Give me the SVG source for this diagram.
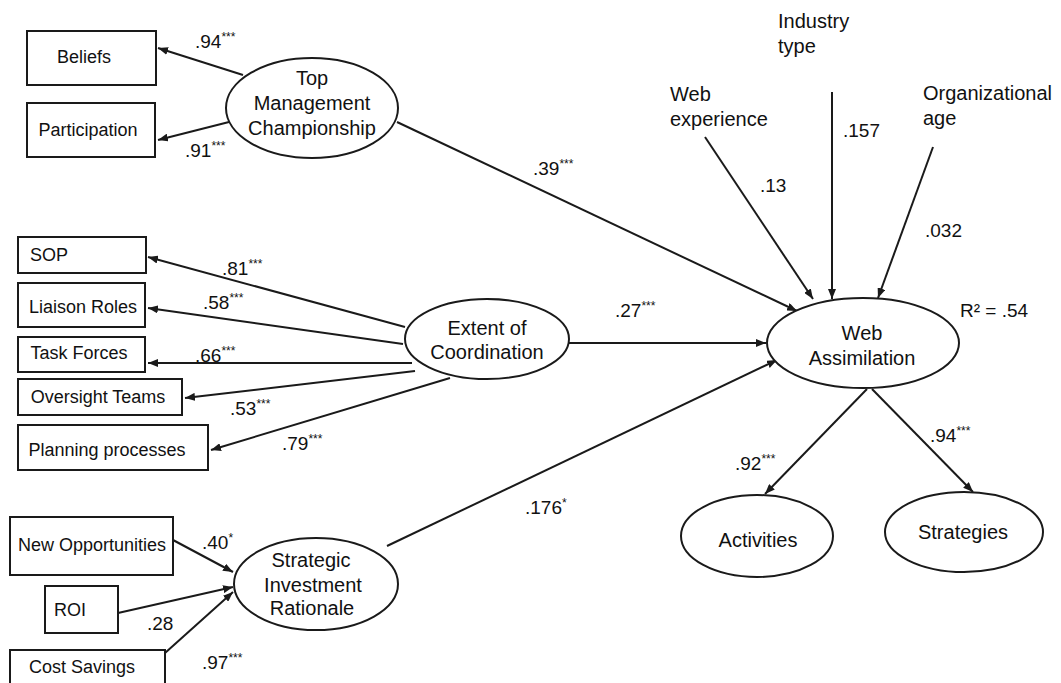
<svg xmlns="http://www.w3.org/2000/svg" width="1061" height="683" viewBox="0 0 1061 683">
<style>
.box{fill:#fff;stroke:#1a1a1a;stroke-width:2}
.ell{fill:#fff;stroke:#1a1a1a;stroke-width:2}
.bt{font-family:"Liberation Sans",Arial,sans-serif;font-size:18px;fill:#111;text-anchor:middle;dominant-baseline:central}
.et{font-family:"Liberation Sans",Arial,sans-serif;font-size:20px;fill:#111;text-anchor:middle;dominant-baseline:central}
.ot{font-family:"Liberation Sans",Arial,sans-serif;font-size:20px;fill:#111}
.lb{font-family:"Liberation Sans",Arial,sans-serif;font-size:19px;fill:#111}
.st{font-size:12px}
.cn{fill:none;stroke:#1a1a1a;stroke-width:2;marker-end:url(#ah)}
</style>
<defs>
<marker id="ah" viewBox="0 0 10 8" refX="10" refY="4" markerWidth="10" markerHeight="8" markerUnits="userSpaceOnUse" orient="auto">
<path d="M0,0 L10,4 L0,8 Z" fill="#1a1a1a"/>
</marker>
</defs>
<rect width="1061" height="683" fill="#fff"/>

<g id="connectors">
<line class="cn" x1="243" y1="75" x2="158" y2="48"/>
<line class="cn" x1="229" y1="122" x2="158" y2="140"/>
<line class="cn" x1="405" y1="327" x2="148" y2="257"/>
<line class="cn" x1="403" y1="344" x2="148" y2="308"/>
<line class="cn" x1="412" y1="363" x2="148" y2="363"/>
<line class="cn" x1="415" y1="371" x2="185" y2="398"/>
<line class="cn" x1="450" y1="378" x2="211" y2="450"/>
<line class="cn" x1="173" y1="540" x2="233" y2="572"/>
<line class="cn" x1="118" y1="613" x2="233" y2="587"/>
<line class="cn" x1="165" y1="653" x2="233" y2="592"/>
<line class="cn" x1="397" y1="122" x2="797" y2="311"/>
<line class="cn" x1="569" y1="343" x2="766" y2="343"/>
<line class="cn" x1="387" y1="546" x2="777" y2="360"/>
<line class="cn" x1="705" y1="137" x2="813" y2="299"/>
<line class="cn" x1="832" y1="92" x2="832" y2="299"/>
<line class="cn" x1="933" y1="147" x2="878" y2="298"/>
<line class="cn" x1="867" y1="389" x2="765" y2="494"/>
<line class="cn" x1="872" y1="389" x2="973" y2="492"/>
</g>

<g id="beliefs"><rect class="box" x="27" y="31" width="129" height="54"/><text class="bt" x="84" y="57">Beliefs</text></g>
<g id="participation"><rect class="box" x="27" y="103" width="128" height="54"/><text class="bt" x="88" y="130">Participation</text></g>
<g id="top-management"><ellipse class="ell" cx="312" cy="108" rx="86" ry="50"/>
<text class="et" x="312" y="78">Top</text><text class="et" x="312" y="103">Management</text><text class="et" x="312" y="128">Championship</text></g>

<g id="sop"><rect class="box" x="18" y="237" width="128" height="36"/><text class="bt" x="49" y="255">SOP</text></g>
<g id="liaison"><rect class="box" x="18" y="283" width="127" height="44"/><text class="bt" x="83" y="307">Liaison Roles</text></g>
<g id="task"><rect class="box" x="18" y="337" width="127" height="35"/><text class="bt" x="79" y="353">Task Forces</text></g>
<g id="oversight"><rect class="box" x="18" y="379" width="164" height="36"/><text class="bt" x="98" y="397">Oversight Teams</text></g>
<g id="planning"><rect class="box" x="18" y="425" width="190" height="45"/><text class="bt" x="107" y="450">Planning processes</text></g>
<g id="extent"><ellipse class="ell" cx="487" cy="339" rx="82" ry="40"/>
<text class="et" x="487" y="328">Extent of</text><text class="et" x="487" y="352">Coordination</text></g>

<g id="new-opp"><rect class="box" x="10" y="517" width="163" height="58"/><text class="bt" x="92" y="545">New Opportunities</text></g>
<g id="roi"><rect class="box" x="45" y="586" width="73" height="47"/><text class="bt" x="70" y="610">ROI</text></g>
<g id="cost"><rect class="box" x="10" y="650" width="155" height="40"/><text class="bt" x="82" y="667">Cost Savings</text></g>
<g id="strategic"><ellipse class="ell" cx="316" cy="584" rx="82" ry="46"/>
<text class="et" x="311" y="560">Strategic</text><text class="et" x="313" y="585">Investment</text><text class="et" x="312" y="608">Rationale</text></g>

<g id="web-assimilation"><ellipse class="ell" cx="863" cy="343" rx="96" ry="45"/>
<text class="et" x="862" y="333">Web</text><text class="et" x="862" y="358">Assimilation</text></g>
<g id="activities"><ellipse class="ell" cx="757" cy="536" rx="76" ry="41"/><text class="et" x="758" y="540">Activities</text></g>
<g id="strategies"><ellipse class="ell" cx="964" cy="532" rx="79" ry="40"/><text class="et" x="963" y="532">Strategies</text></g>

<g id="industry"><text class="ot" x="778" y="28">Industry</text><text class="ot" x="778" y="53">type</text></g>
<g id="web-exp"><text class="ot" x="670" y="101">Web</text><text class="ot" x="670" y="126">experience</text></g>
<g id="org-age"><text class="ot" x="923" y="100">Organizational</text><text class="ot" x="923" y="125">age</text></g>

<g id="labels">
<text class="lb" x="195" y="48">.94<tspan class="st" dy="-7">***</tspan></text>
<text class="lb" x="185" y="157">.91<tspan class="st" dy="-7">***</tspan></text>
<text class="lb" x="222" y="275">.81<tspan class="st" dy="-7">***</tspan></text>
<text class="lb" x="203" y="309">.58<tspan class="st" dy="-7">***</tspan></text>
<text class="lb" x="195" y="362">.66<tspan class="st" dy="-7">***</tspan></text>
<text class="lb" x="230" y="415">.53<tspan class="st" dy="-7">***</tspan></text>
<text class="lb" x="282" y="450">.79<tspan class="st" dy="-7">***</tspan></text>
<text class="lb" x="533" y="175">.39<tspan class="st" dy="-7">***</tspan></text>
<text class="lb" x="615" y="317">.27<tspan class="st" dy="-7">***</tspan></text>
<text class="lb" x="525" y="514">.176<tspan class="st" dy="-7">*</tspan></text>
<text class="lb" x="760" y="192">.13</text>
<text class="lb" x="843" y="137">.157</text>
<text class="lb" x="925" y="237">.032</text>
<text class="lb" x="735" y="470">.92<tspan class="st" dy="-7">***</tspan></text>
<text class="lb" x="930" y="442">.94<tspan class="st" dy="-7">***</tspan></text>
<text class="lb" x="202" y="549">.40<tspan class="st" dy="-7">*</tspan></text>
<text class="lb" x="147" y="630">.28</text>
<text class="lb" x="202" y="669">.97<tspan class="st" dy="-7">***</tspan></text>
<text class="lb" x="960" y="317">R² = .54</text>
</g>
</svg>
